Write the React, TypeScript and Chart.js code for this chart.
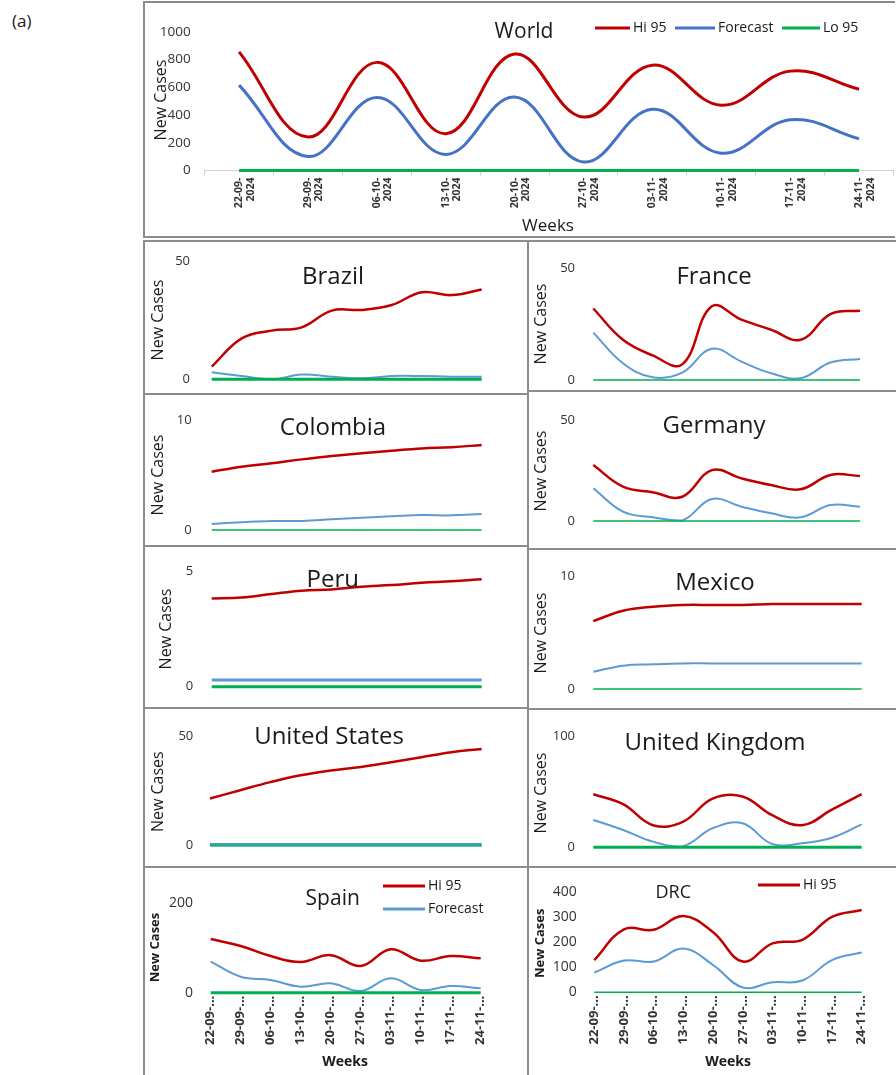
import React, { useEffect, useRef } from "react";
import { Chart, registerables } from "chart.js";

Chart.register(...registerables);

const FONT = "'Open Sans', 'Noto Sans', sans-serif";
Chart.defaults.font.family = FONT;
Chart.defaults.color = "#404040";

// ---------- data ----------
const weeks = [
  "22-09-2024", "29-09-2024", "06-10-2024", "13-10-2024", "20-10-2024",
  "27-10-2024", "03-11-2024", "10-11-2024", "17-11-2024", "24-11-2024",
];
const worldTickLabels = weeks.map((w) => [w.slice(0, 6), w.slice(6)]);
const shortTickLabels = weeks.map((w) => w.slice(0, 6) + "...");

const seriesNames = ["Hi 95", "Forecast", "Lo 95"];

const worldHi = [855, 241, 779, 265, 839, 385, 759, 470, 716, 585];
const worldForecast = [615, 101, 526, 116, 530, 62, 441, 125, 365, 229];
const worldLo = [0, 0, 0, 0, 0, 0, 0, 0, 0, 0];

const brazilHi = [5.4, 17.4, 20.7, 22.1, 29.2, 29.5, 31.6, 37, 35.8, 38.2];
const brazilForecast = [3, 1.4, 0, 2, 1.1, 0.4, 1.4, 1.4, 1.1, 1.1];
const brazilLo = [0, 0, 0, 0, 0, 0, 0, 0, 0, 0];

const colombiaHi = [5.3, 5.76, 6.06, 6.42, 6.73, 6.97, 7.21, 7.42, 7.52, 7.73];
const colombiaForecast = [0.55, 0.7, 0.82, 0.82, 0.97, 1.12, 1.24, 1.36, 1.33, 1.45];
const colombiaLo = [0, 0, 0, 0, 0, 0, 0, 0, 0, 0];

const peruHi = [3.84, 3.88, 4.03, 4.17, 4.23, 4.35, 4.42, 4.52, 4.58, 4.67];
const peruForecast = [0.29, 0.29, 0.29, 0.29, 0.29, 0.29, 0.29, 0.29, 0.29, 0.29];
const peruLo = [0, 0, 0, 0, 0, 0, 0, 0, 0, 0];

const usHi = [21.4, 25.2, 28.9, 32, 34.2, 35.8, 38, 40.3, 42.6, 44.1];
const usForecast = [0.3, 0.3, 0.3, 0.3, 0.3, 0.3, 0.3, 0.3, 0.3, 0.3];
const usLo = [0, 0, 0, 0, 0, 0, 0, 0, 0, 0];

const spainHi = [120, 104.5, 82, 68.7, 84, 59.7, 97, 71.6, 82, 76.9];
const spainForecast = [69.4, 35.8, 28.4, 13.4, 20.9, 3.7, 32.1, 6, 14.9, 9.7];
const spainLo = [0, 0, 0, 0, 0, 0, 0, 0, 0, 0];

const franceHi = [32, 18, 11, 7, 33, 27, 22.5, 18, 29.5, 31];
const franceForecast = [21.2, 7.5, 1.2, 3.3, 14, 8.2, 3, 0.8, 7.8, 9.4];
const franceLo = [0, 0, 0, 0, 0, 0, 0, 0, 0, 0];

const germanyHi = [27.7, 17, 14.2, 12, 25.2, 21.1, 17.8, 15.7, 22.8, 22.3];
const germanyForecast = [16.2, 4.6, 1.8, 0.3, 10.9, 7.1, 3.8, 1.8, 7.9, 7.1];
const germanyLo = [0, 0, 0, 0, 0, 0, 0, 0, 0, 0];

const mexicoHi = [6.05, 6.97, 7.33, 7.48, 7.48, 7.48, 7.57, 7.57, 7.57, 7.57];
const mexicoForecast = [1.54, 2.08, 2.2, 2.28, 2.28, 2.28, 2.28, 2.28, 2.28, 2.28];
const mexicoLo = [0, 0, 0, 0, 0, 0, 0, 0, 0, 0];

const ukHi = [48, 39, 20, 23, 44, 46, 29, 20, 34, 48];
const ukForecast = [24.7, 15.7, 5.1, 1, 17.2, 21.7, 3, 3.6, 8.7, 20.8];
const ukLo = [0, 0, 0, 0, 0, 0, 0, 0, 0, 0];

const drcHi = [129, 252, 250, 305, 240, 123, 196, 210, 302, 329];
const drcForecast = [79, 127, 123, 175, 109, 19, 40, 47, 129, 159];
const drcLo = [0, 0, 0, 0, 0, 0, 0, 0, 0, 0];

// ---------- styles ----------
const RED = "#C00000";
const BLUE_DARK = "#4472C4";
const BLUE = "#5B9BD5";
const GREEN = "#00B050";
const TXT = "#1a1a1a";

type Item =
  | { kind: "text"; text: string; x: number; y: number; font: string; rot?: number; align?: CanvasTextAlign; color?: string }
  | { kind: "line"; x1: number; x2: number; y: number; color: string; width: number };

type Series = { data: number[]; color: string; width: number };

type Panel = {
  id: string;
  x: number; y: number; w: number; h: number;
  chartLeft: number; chartRight: number; chartTop: number; chartBottom: number;
  ymax: number; ystep: number; yFont: number; yPad: number;
  xMode: "none" | "world" | "short";
  series: Series[];
  items: Item[];
  borders: { top?: boolean; left?: boolean; bottom?: boolean; right?: boolean };
};

const title = (text: string, x: number, y: number, size = 24): Item => ({
  kind: "text", text, x, y, font: `${size}px ${FONT}`, color: TXT,
});
const yTitle = (x: number, y: number, font = `16px ${FONT}`): Item => ({
  kind: "text", text: "New Cases", x, y, font, rot: -Math.PI / 2, color: TXT,
});
const legendLine = (x1: number, x2: number, y: number, color: string): Item => ({
  kind: "line", x1, x2, y, color, width: 3,
});
const legendText = (text: string, x: number, y: number, size = 14): Item => ({
  kind: "text", text, x, y, font: `${size}px ${FONT}`, align: "left", color: TXT,
});

const S = (hi: number[], fc: number[], lo: number[], opts: { fcColor?: string; fcW?: number; loW?: number; loColor?: string; hiW?: number } = {}): Series[] => [
  { data: hi, color: RED, width: opts.hiW ?? 2.5 },
  { data: fc, color: opts.fcColor ?? BLUE, width: opts.fcW ?? 2 },
  { data: lo, color: opts.loColor ?? GREEN, width: opts.loW ?? 1.5 },
];

const panels: Panel[] = [
  {
    id: "world", x: 143, y: 1, w: 752, h: 237,
    chartLeft: 204.6, chartRight: 893.5, chartTop: 31.7, chartBottom: 170.5,
    ymax: 1000, ystep: 200, yFont: 13.5, yPad: 14, xMode: "world",
    series: S(worldHi, worldForecast, worldLo, { fcColor: BLUE_DARK, fcW: 3, loW: 3, hiW: 3 }),
    items: [
      title("World", 524, 32, 21),
      yTitle(161, 100),
      { kind: "text", text: "Weeks", x: 548, y: 226, font: `17px ${FONT}`, color: TXT },
      legendLine(595, 630, 28, RED), legendText(seriesNames[0], 633, 28),
      legendLine(675, 715, 28, BLUE_DARK), legendText(seriesNames[1], 718, 28),
      legendLine(782, 820, 28, GREEN), legendText(seriesNames[2], 823, 28),
    ],
    borders: { top: true, left: true, bottom: true },
  },
  {
    id: "brazil", x: 143, y: 240, w: 384, h: 153,
    chartLeft: 211.7, chartRight: 481.7, chartTop: 261.7, chartBottom: 379.3,
    ymax: 50, ystep: 50, yFont: 13, yPad: 21.7, xMode: "none",
    series: S(brazilHi, brazilForecast, brazilLo, { loW: 3 }),
    items: [title("Brazil", 333, 277), yTitle(158.5, 320)],
    borders: { top: true, left: true },
  },
  {
    id: "colombia", x: 143, y: 393, w: 384, h: 152,
    chartLeft: 211.7, chartRight: 481.7, chartTop: 420, chartBottom: 530,
    ymax: 10, ystep: 10, yFont: 13, yPad: 20, xMode: "none",
    series: S(colombiaHi, colombiaForecast, colombiaLo),
    items: [title("Colombia", 333, 428), yTitle(158.5, 475)],
    borders: { top: true, left: true },
  },
  {
    id: "peru", x: 143, y: 545, w: 384, h: 162,
    chartLeft: 211.7, chartRight: 481.7, chartTop: 571.7, chartBottom: 686.7,
    ymax: 5, ystep: 5, yFont: 13, yPad: 18.4, xMode: "none",
    series: S(peruHi, peruForecast, peruLo, { fcW: 3, loW: 3 }),
    items: [title("Peru", 332.7, 580), yTitle(166.7, 629)],
    borders: { top: true, left: true },
  },
  {
    id: "us", x: 143, y: 707, w: 384, h: 159,
    chartLeft: 210, chartRight: 481.7, chartTop: 736, chartBottom: 845.3,
    ymax: 50, ystep: 50, yFont: 13, yPad: 16.7, xMode: "none",
    series: S(usHi, usForecast, usLo, { fcW: 3.5, loW: 3, loColor: "rgba(0,176,80,0.55)" }),
    items: [title("United States", 329, 737.3), yTitle(158.3, 791.7)],
    borders: { top: true, left: true },
  },
  {
    id: "spain", x: 143, y: 866, w: 384, h: 209,
    chartLeft: 210.7, chartRight: 480.7, chartTop: 903.3, chartBottom: 992.7,
    ymax: 200, ystep: 200, yFont: 14, yPad: 17.7, xMode: "short",
    series: S(spainHi, spainForecast, spainLo, { loW: 3 }),
    items: [
      title("Spain", 332.7, 899.3, 21),
      yTitle(155, 947.5, `bold 13px ${FONT}`),
      { kind: "text", text: "Weeks", x: 345, y: 1061.7, font: `bold 14px ${FONT}`, color: TXT },
      legendLine(383, 425, 886, RED), legendText(seriesNames[0], 428, 886),
      legendLine(383, 425, 909, BLUE), legendText(seriesNames[1], 428, 909),
    ],
    borders: { top: true, left: true },
  },
  {
    id: "france", x: 527, y: 240, w: 369, h: 150,
    chartLeft: 593.3, chartRight: 860, chartTop: 268.3, chartBottom: 380,
    ymax: 50, ystep: 50, yFont: 13, yPad: 18.3, xMode: "none",
    series: S(franceHi, franceForecast, franceLo),
    items: [title("France", 714, 276.7), yTitle(541, 324)],
    borders: { top: true, left: true },
  },
  {
    id: "germany", x: 527, y: 390, w: 369, h: 158,
    chartLeft: 593.3, chartRight: 860, chartTop: 420, chartBottom: 521,
    ymax: 50, ystep: 50, yFont: 13, yPad: 18.3, xMode: "none",
    series: S(germanyHi, germanyForecast, germanyLo),
    items: [title("Germany", 714, 426), yTitle(541, 471)],
    borders: { top: true, left: true },
  },
  {
    id: "mexico", x: 527, y: 548, w: 369, h: 160,
    chartLeft: 593.3, chartRight: 861.7, chartTop: 576.7, chartBottom: 689,
    ymax: 10, ystep: 10, yFont: 13, yPad: 18.3, xMode: "none",
    series: S(mexicoHi, mexicoForecast, mexicoLo),
    items: [title("Mexico", 715, 583.3), yTitle(541, 633)],
    borders: { top: true, left: true },
  },
  {
    id: "uk", x: 527, y: 708, w: 369, h: 158,
    chartLeft: 593.3, chartRight: 861.7, chartTop: 736.7, chartBottom: 847.3,
    ymax: 100, ystep: 100, yFont: 13, yPad: 18.3, xMode: "none",
    series: S(ukHi, ukForecast, ukLo, { loW: 3 }),
    items: [title("United Kingdom", 715, 743.3), yTitle(541, 793)],
    borders: { top: true, left: true },
  },
  {
    id: "drc", x: 527, y: 866, w: 369, h: 209,
    chartLeft: 594.3, chartRight: 861.7, chartTop: 892.3, chartBottom: 992.3,
    ymax: 400, ystep: 100, yFont: 14, yPad: 17.6, xMode: "short",
    series: S(drcHi, drcForecast, drcLo),
    items: [
      title("DRC", 673.3, 893.3, 18),
      yTitle(540, 943.3, `bold 13px ${FONT}`),
      { kind: "text", text: "Weeks", x: 728, y: 1061.7, font: `bold 14px ${FONT}`, color: TXT },
      legendLine(758, 800, 885, RED), legendText(seriesNames[0], 803, 885),
    ],
    borders: { top: true, left: true },
  },
];

function makeAnnot(p: Panel) {
  return {
    id: "annot-" + p.id,
    afterDraw(chart: any) {
      const ctx: CanvasRenderingContext2D = chart.ctx;
      for (const it of p.items) {
        ctx.save();
        if (it.kind === "line") {
          ctx.strokeStyle = it.color;
          ctx.lineWidth = it.width;
          ctx.lineCap = "butt";
          ctx.beginPath();
          ctx.moveTo(it.x1 - p.x, it.y - p.y);
          ctx.lineTo(it.x2 - p.x, it.y - p.y);
          ctx.stroke();
        } else {
          ctx.translate(it.x - p.x, it.y - p.y);
          if (it.rot) ctx.rotate(it.rot);
          ctx.font = it.font;
          ctx.fillStyle = it.color || TXT;
          ctx.textAlign = it.align || "center";
          ctx.textBaseline = "middle";
          ctx.fillText(it.text, 0, 0);
        }
        ctx.restore();
      }
    },
  };
}

function buildConfig(p: Panel): any {
  const left = p.chartLeft - p.x;
  const right = p.chartRight - p.x;
  const top = p.chartTop - p.y;
  const bottom = p.chartBottom - p.y;
  const world = p.xMode === "world";
  const labels = world ? worldTickLabels : p.xMode === "short" ? shortTickLabels : weeks;
  return {
    type: "line",
    data: {
      labels,
      datasets: p.series.map((s, i) => ({
        label: seriesNames[i],
        data: s.data,
        borderColor: s.color,
        backgroundColor: s.color,
        borderWidth: s.width,
        pointRadius: 0,
        tension: 0.4,
        fill: false,
        clip: false,
        order: 2 - i,
      })),
    },
    options: {
      animation: false,
      responsive: false,
      maintainAspectRatio: false,
      devicePixelRatio: 1,
      events: [],
      layout: { padding: { left: 0, top, right: p.w - right, bottom: 0 } },
      plugins: { legend: { display: false }, tooltip: { enabled: false }, title: { display: false } },
      scales: {
        x: {
          type: "category",
          display: p.xMode !== "none",
          offset: world,
          afterFit: (s: any) => {
            s.height = p.h - bottom;
          },
          grid: world
            ? { display: true, drawOnChartArea: false, drawTicks: true, tickLength: 5, offset: true, color: "#d0d0d0" }
            : { display: false, drawTicks: false },
          border: world ? { display: true, color: "#d0d0d0", width: 1 } : { display: false },
          ticks: {
            autoSkip: false,
            maxRotation: 90,
            minRotation: 90,
            padding: world ? 2 : 3,
            color: "#333",
            font: world ? { size: 10.5, weight: "bold", lineHeight: 1.1 } : { size: 13, weight: "bold" },
          },
        },
        y: {
          min: 0,
          max: p.ymax,
          afterFit: (s: any) => {
            s.width = left;
            s.paddingTop = 0;
            s.paddingBottom = 0;
          },
          grid: { display: false, drawTicks: false },
          border: { display: false },
          ticks: {
            stepSize: p.ystep,
            padding: p.yPad,
            color: "#333",
            font: { size: p.yFont },
            callback: (v: any) => String(v),
          },
        },
      },
    },
    plugins: [makeAnnot(p)],
  };
}

function PanelChart({ p }: { p: Panel }) {
  const ref = useRef<HTMLCanvasElement>(null);
  useEffect(() => {
    const chart = new Chart(ref.current as HTMLCanvasElement, buildConfig(p));
    return () => chart.destroy();
  }, []);
  const bc = "2px solid #8c8c8c";
  return (
    <div style={{ position: "absolute", left: p.x, top: p.y, width: p.w, height: p.h }}>
      <canvas ref={ref} width={p.w} height={p.h} style={{ display: "block", width: p.w, height: p.h }} />
      <div
        style={{
          position: "absolute", left: 0, top: 0, width: p.w, height: p.h, boxSizing: "border-box", pointerEvents: "none",
          borderTop: p.borders.top ? bc : "none",
          borderLeft: p.borders.left ? bc : "none",
          borderBottom: p.borders.bottom ? bc : "none",
          borderRight: p.borders.right ? bc : "none",
        }}
      />
    </div>
  );
}

export default function App() {
  return (
    <div style={{ position: "absolute", left: 0, top: 0, width: 896, height: 1075, background: "#fff", overflow: "hidden", fontFamily: FONT }}>
      <div style={{ position: "absolute", left: 12, top: 9, fontSize: 17, color: TXT }}>(a)</div>
      {panels.map((p) => (
        <PanelChart key={p.id} p={p} />
      ))}
    </div>
  );
}
